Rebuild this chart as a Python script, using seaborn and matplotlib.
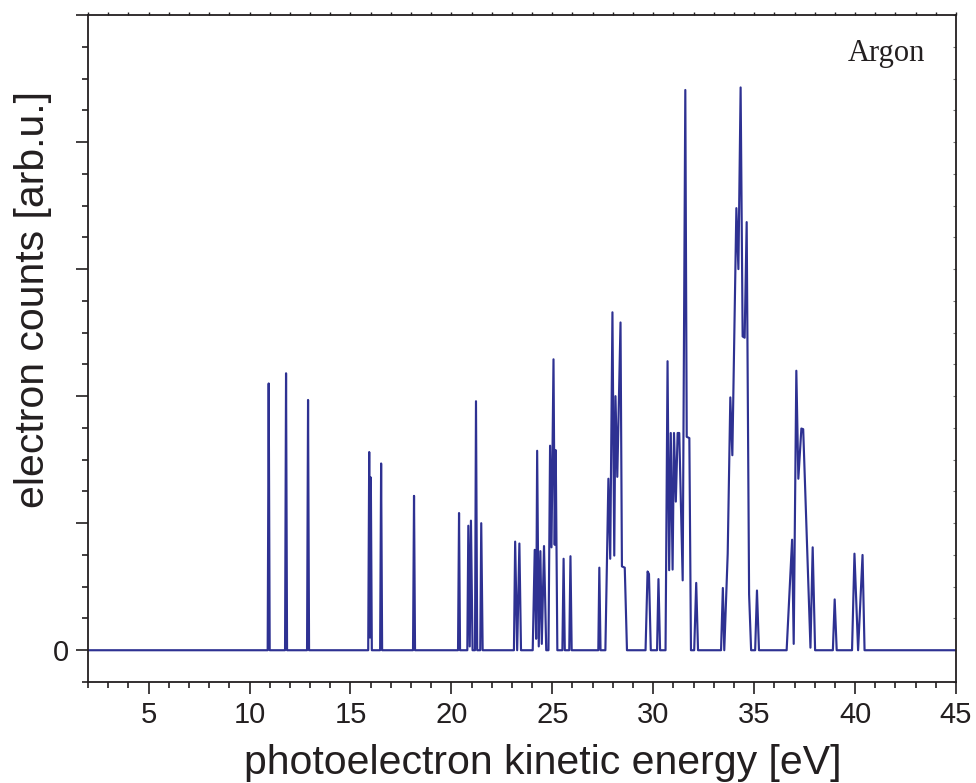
import matplotlib
matplotlib.use("Agg")
import matplotlib.pyplot as plt
from matplotlib.ticker import MultipleLocator, NullFormatter
import pandas as pd
import seaborn as sns

# Photoelectron spectrum of argon: vertices of the measured trace
energy_ev = [
    2.00, 10.90, 10.95, 11.00, 11.76, 11.81, 11.86, 12.85, 12.90, 12.95,
    15.88, 15.93, 15.97, 16.01, 16.06, 16.47, 16.52, 16.57, 18.10, 18.15, 18.20,
    20.33, 20.38, 20.43, 20.79, 20.84, 20.91, 20.97, 21.05, 21.17, 21.22, 21.28,
    21.43, 21.48, 21.55,
    23.10, 23.16, 23.26, 23.37, 23.45,
    24.03, 24.13, 24.20, 24.25, 24.33, 24.41, 24.48, 24.59, 24.70, 24.81,
    24.89, 24.96, 25.06, 25.12, 25.17, 25.25,
    25.50, 25.56, 25.62, 25.84, 25.90, 25.96, 27.28, 27.33, 27.39,
    27.63, 27.78, 27.87, 27.98, 28.07, 28.13, 28.22, 28.38, 28.45, 28.59, 28.70,
    29.62, 29.72, 29.79, 29.88, 30.19, 30.26, 30.34,
    30.61, 30.71, 30.79, 30.87, 30.96, 31.03, 31.12, 31.21, 31.29, 31.46,
    31.59, 31.66, 31.79, 31.87,
    32.03, 32.13, 32.22,
    33.36, 33.45, 33.52, 33.69, 33.82, 33.92, 34.12, 34.22, 34.33, 34.43,
    34.53, 34.63, 34.75, 34.85,
    35.05, 35.14, 35.24,
    36.61, 36.88, 36.96, 37.09, 37.19, 37.34, 37.43, 37.79, 37.90, 38.02,
    38.90, 38.99, 39.09, 39.85, 39.97, 40.15, 40.37, 40.47, 45.00,
]
counts = [
    0.00, 0.00, 2.10, 0.00, 0.00, 2.18, 0.00, 0.00, 1.97, 0.00,
    0.00, 1.56, 0.10, 1.36, 0.00, 0.00, 1.47, 0.00, 0.00, 1.215, 0.00,
    0.00, 1.08, 0.00, 0.00, 0.98, 0.03, 1.02, 0.00, 0.00, 1.96, 0.00,
    0.00, 1.00, 0.00,
    0.00, 0.855, 0.00, 0.84, 0.00,
    0.00, 0.79, 0.09, 1.57, 0.03, 0.78, 0.05, 0.82, 0.00, 0.00,
    1.61, 0.81, 2.29, 0.83, 1.575, 0.00,
    0.00, 0.72, 0.00, 0.00, 0.74, 0.00, 0.00, 0.65, 0.00,
    0.00, 1.35, 0.72, 2.66, 0.745, 2.00, 1.365, 2.58, 0.66, 0.65, 0.00,
    0.00, 0.62, 0.60, 0.00, 0.00, 0.56, 0.00,
    0.00, 2.275, 0.63, 1.71, 0.635, 1.71, 1.17, 1.71, 1.71, 0.55,
    4.41, 1.68, 1.67, 0.00,
    0.00, 0.53, 0.00,
    0.00, 0.49, 0.00, 0.76, 1.99, 1.535, 3.48, 3.00, 4.43, 2.47,
    2.46, 3.37, 0.44, 0.00,
    0.00, 0.47, 0.00,
    0.00, 0.87, 0.05, 2.20, 1.35, 1.745, 1.74, 0.02, 0.81, 0.00,
    0.00, 0.40, 0.00, 0.00, 0.76, 0.00, 0.75, 0.00, 0.00,
]

x_major = [5, 10, 15, 20, 25, 30, 35, 40, 45]
y_major = [0, 1, 2, 3, 4, 5]
y_labels = ["0", "", "", "", "", ""]

sns.set_theme(style="ticks")
plt.rcParams["font.family"] = ["Liberation Sans", "DejaVu Sans"]

ink = "#231f20"
trace = "#2e3192"

df = pd.DataFrame({"energy": energy_ev, "counts": counts})

fig = plt.figure(figsize=(9.76, 7.83), dpi=100)
ax = fig.add_axes([0.0902, 0.129, 0.8893, 0.8518])

sns.lineplot(data=df, x="energy", y="counts", sort=False, estimator=None,
             color=trace, linewidth=1.55, ax=ax)

ax.set_xlim(2, 45)
ax.set_ylim(-0.25, 5.0)

ax.set_xticks(x_major)
ax.set_xticklabels([str(v) for v in x_major])
ax.xaxis.set_minor_locator(MultipleLocator(1))
ax.set_yticks(y_major)
ax.set_yticklabels(y_labels)
ax.yaxis.set_minor_locator(MultipleLocator(0.25))

for s in ax.spines.values():
    s.set_color(ink)
    s.set_linewidth(1.3)
    s.set_visible(True)

ax.tick_params(axis="both", which="major", direction="out", length=8.6,
               width=1.2, color=ink, labelsize=21, labelcolor=ink, pad=5,
               top=False, right=False)
ax.tick_params(axis="both", which="minor", direction="out", length=4.3,
               width=1.2, color=ink, top=False, right=False)

# short ticks along the top and right frame
top = ax.secondary_xaxis("top")
top.xaxis.set_major_locator(MultipleLocator(1))
top.xaxis.set_major_formatter(NullFormatter())
top.tick_params(direction="out", length=2.2, width=1.0, color=ink)
top.spines["top"].set_visible(False)

right = ax.secondary_yaxis("right")
right.yaxis.set_major_locator(MultipleLocator(0.25))
right.yaxis.set_major_formatter(NullFormatter())
right.tick_params(direction="in", length=2.0, width=0.8, color="#777777")
right.spines["right"].set_visible(False)

ax.set_xlabel("photoelectron kinetic energy [eV]", fontsize=29.5, color=ink)
ax.set_ylabel("electron counts [arb.u.]", fontsize=29.5, color=ink)
ax.xaxis.set_label_coords(0.524, -0.093)
ax.yaxis.set_label_coords(-0.042, 0.573)

ax.text(0.964, 0.943, "Argon", transform=ax.transAxes, ha="right", va="center",
        fontsize=22, color=ink, family=["Liberation Serif", "DejaVu Serif"])

fig.savefig("out.png", dpi=100, facecolor="white")
